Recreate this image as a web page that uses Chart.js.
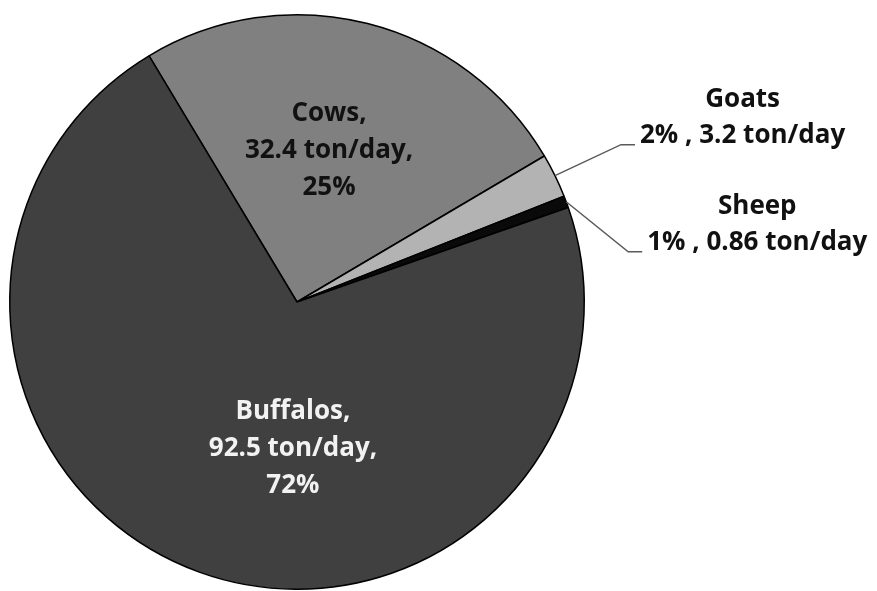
<!DOCTYPE html>
<html>
<head>
<meta charset="utf-8">
<script src="https://cdn.jsdelivr.net/npm/chart.js@4"></script>
<style>
  html, body { margin: 0; padding: 0; background: #ffffff; }
  #wrap { width: 877px; height: 591px; position: relative; }
</style>
</head>
<body>
<div id="wrap"><canvas id="c" width="877" height="591"></canvas></div>
<script>
// Daily manure production by animal type (ton/day)
const categories = ['Cows', 'Goats', 'Sheep', 'Buffalos'];
const tonsPerDay = [32.4, 3.2, 0.86, 92.5];
const sliceColors = ['#808080', '#b3b3b3', '#0a0a0a', '#404040'];

const total = tonsPerDay.reduce((a, b) => a + b, 0);
const pct = v => Math.round(v / total * 100) + '%';

// Label styling per slice: inside labels follow the slice, outside ones use a leader line
const labelStyle = {
  Cows:     { mode: 'inside', angleShift: -2.3, dist: 0.54, color: '#111111',
              lines: (v) => ['Cows,', v + ' ton/day,', pct(v)] },
  Buffalos: { mode: 'inside', angleShift: -18.3, dist: 0.51, color: '#f2f2f2',
              lines: (v) => ['Buffalos,', v + ' ton/day,', pct(v)] },
  Goats:    { mode: 'outside', elbow: [66, -31], color: '#111111',
              lines: (v) => ['Goats', pct(v) + ' , ' + v + ' ton/day'] },
  Sheep:    { mode: 'outside', elbow: [62, 50], color: '#111111',
              lines: (v) => ['Sheep', pct(v) + ' , ' + v + ' ton/day'] }
};

const FONT = 'bold 26px "Open Sans", Lato, sans-serif';
const LINE_H = 37;

const pieLabels = {
  id: 'pieLabels',
  afterDatasetsDraw(chart) {
    const ctx = chart.ctx;
    const meta = chart.getDatasetMeta(0);
    ctx.save();
    ctx.font = FONT;
    ctx.textBaseline = 'middle';
    meta.data.forEach((arc, i) => {
      const name = categories[i];
      const st = labelStyle[name];
      const v = tonsPerDay[i];
      const lines = st.lines(v);
      const mid = (arc.startAngle + arc.endAngle) / 2;
      const cx = arc.x, cy = arc.y, r = arc.outerRadius;
      ctx.fillStyle = st.color;
      if (st.mode === 'inside') {
        const a = mid + st.angleShift * Math.PI / 180;
        const x = cx + Math.cos(a) * r * st.dist;
        const y = cy + Math.sin(a) * r * st.dist;
        ctx.textAlign = 'center';
        lines.forEach((t, k) => {
          ctx.fillText(t, x, y + (k - (lines.length - 1) / 2) * LINE_H);
        });
      } else {
        const x0 = cx + Math.cos(mid) * r;
        const y0 = cy + Math.sin(mid) * r;
        const x1 = x0 + st.elbow[0];
        const y1 = y0 + st.elbow[1];
        const x2 = x1 + 14;
        ctx.strokeStyle = '#5a5a5a';
        ctx.lineWidth = 1.5;
        ctx.beginPath();
        ctx.moveTo(x0, y0);
        ctx.lineTo(x1, y1);
        ctx.lineTo(x2, y1);
        ctx.stroke();
        const w2 = ctx.measureText(lines[1]).width;
        const tx = x2 + 5 + w2 / 2;
        ctx.textAlign = 'center';
        ctx.fillText(lines[0], tx, y1 - 45);
        ctx.fillText(lines[1], tx, y1 - 9);
      }
    });
    ctx.restore();
  }
};

new Chart(document.getElementById('c'), {
  type: 'pie',
  data: {
    labels: categories,
    datasets: [{
      data: tonsPerDay,
      backgroundColor: sliceColors,
      borderColor: '#000000',
      borderWidth: 1.5
    }]
  },
  options: {
    responsive: false,
    animation: false,
    rotation: -31,
    layout: { padding: { left: 9, top: 14, right: 292, bottom: 1 } },
    plugins: {
      legend: { display: false },
      tooltip: { enabled: false },
      title: { display: false }
    }
  },
  plugins: [pieLabels]
});
</script>
</body>
</html>
